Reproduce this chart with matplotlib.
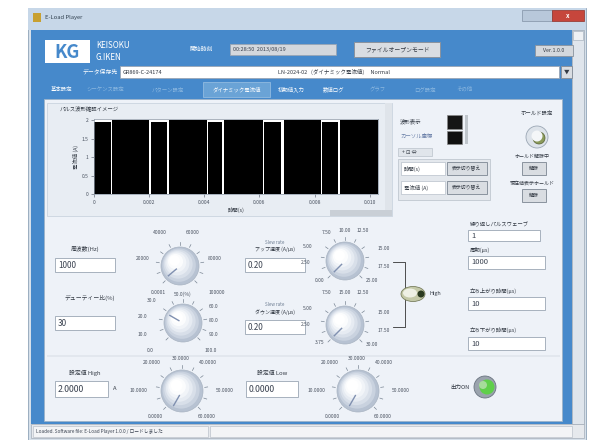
import numpy as np
import matplotlib
matplotlib.use("Agg")
import matplotlib.pyplot as plt
from matplotlib.patches import Rectangle, Circle, Ellipse

plt.rcParams['font.family'] = ['Noto Sans CJK JP', 'DejaVu Sans']

# ---------------- data ----------------
# pulse waveform segments (start time s, end time s, current A)
seg_start = [0.00000, 0.00065, 0.00205, 0.00272, 0.00415, 0.00472, 0.00618, 0.00688, 0.00828, 0.00892]
seg_end   = [0.00060, 0.00200, 0.00265, 0.00410, 0.00465, 0.00612, 0.00680, 0.00822, 0.00885, 0.01030]
seg_level = [1.95, 2.00, 1.95, 2.00, 1.95, 2.00, 1.95, 2.00, 1.95, 2.00]
x_ticks = [0, 0.002, 0.004, 0.006, 0.008, 0.010]
x_tick_labels = ["0", "0.002", "0.004", "0.006", "0.008", "0.010"]
y_ticks = [0, 0.5, 1.0, 1.5, 2.0]
y_tick_labels = ["0", "0.5", "1", "1.5", "2"]

freq_value = "1000"
duty_value = "30"
up_speed_value = "0.20"
down_speed_value = "0.20"
high_value = "2.0000"
low_value = "0.0000"
repeat_value = "1"
period_value = "1000"
rise_value = "10"
fall_value = "10"

freq_knob_labels = ["0.0001", "20000", "40000", "60000", "80000", "100000"]
duty_knob_labels = ["0.0", "10.0", "20.0", "30.0", "50.0(%)", "60.0", "80.0", "90.0", "100.0"]
up_knob_labels = ["0.00", "2.50", "5.00", "7.50", "10.00", "12.50", "15.00", "17.50", "25.00"]
dn_knob_labels = ["3.75", "2.50", "5.00", "7.50", "15.00", "12.50", "15.00", "17.50", "30.00"]
high_knob_labels = ["0.0000", "10.0000", "20.0000", "30.0000", "40.0000", "50.0000", "60.0000"]
low_knob_labels = ["0.0000", "10.0000", "20.0000", "30.0000", "40.0000", "50.0000", "60.0000"]

# ---------------- figure ----------------
W, H = 595, 440
fig = plt.figure(figsize=(W / 100, H / 100), dpi=100)
bg = fig.add_axes([0, 0, 1, 1])
bg.set_xlim(0, W)
bg.set_ylim(H, 0)
bg.axis('off')

BLUE = '#4689cb'
PANEL = '#eef2f8'
TXT = '#333a44'


def rect(x0, y0, x1, y1, fc, ec='none', lw=0.6, z=1):
    bg.add_patch(Rectangle((x0, y0), x1 - x0, y1 - y0, facecolor=fc, edgecolor=ec, lw=lw, zorder=z))


def txt(x, y, s, size=4.3, color=TXT, ha='left', va='center', weight='normal', z=5, rot=0):
    bg.text(x, y, s, fontsize=size, color=color, ha=ha, va=va, weight=weight, zorder=z, rotation=rot)


def field(x0, y0, x1, y1, s, size=5.5):
    rect(x0, y0, x1, y1, 'white', '#9aa6b4', 0.6, 3)
    txt(x0 + 3, (y0 + y1) / 2, s, size=size, color='#3a4250', z=4)


def button(x0, y0, x1, y1, s, size=3.8):
    rect(x0, y0, x1, y1, '#d9dde2', '#8a939e', 0.7, 3)
    txt((x0 + x1) / 2, (y0 + y1) / 2, s, size=size, ha='center', z=4)


def knob(cx, cy, r, angle, labels, lpos):
    for a in np.linspace(225, -45, 11):
        t = np.deg2rad(a)
        bg.plot([cx + (r + 2) * np.cos(t), cx + (r + 5) * np.cos(t)],
                [cy - (r + 2) * np.sin(t), cy - (r + 5) * np.sin(t)], color='#7a8694', lw=0.5, zorder=3)
    cols = ['#b7c2d2', '#c9d2df', '#d8dfe9', '#e6ebf2', '#f1f4f8', '#fbfcfd', '#ffffff']
    for i, c in enumerate(cols):
        f = 1 - i * 0.12
        off = i * 0.9
        bg.add_patch(Circle((cx - off, cy - off), r * f, facecolor=c, edgecolor='none', zorder=4))
    bg.add_patch(Circle((cx, cy), r, facecolor='none', edgecolor='#a9b4c2', lw=0.5, zorder=5))
    t = np.deg2rad(angle)
    bg.plot([cx + 0.25 * r * np.cos(t), cx + 0.8 * r * np.cos(t)],
            [cy - 0.25 * r * np.sin(t), cy - 0.8 * r * np.sin(t)], color='#8090b0', lw=1.0, zorder=6)
    for s, (x, y) in zip(labels, lpos):
        txt(x, y, s, size=3.6, ha='center', color='#4a5260')


# window frame
rect(28, 8, 586, 440, '#d6e0ea', '#8ea3b8', 0.6, 0)
rect(28, 8, 586, 30, '#c7d7e8', 'none', 0, 1)
txt(45, 18, "E-Load Player", size=4.2, color='#30404f')
rect(33, 13, 41, 22, '#c8a030', 'none', 0, 2)
rect(522, 10, 552, 21, '#b8c8da', '#8090a4', 0.5, 2)
rect(552, 10, 584, 21, '#c6463c', '#903028', 0.5, 2)
txt(568, 15.5, "x", size=4.5, color='white', ha='center', weight='bold')

# blue body
rect(31, 30, 572, 424, BLUE, 'none', 0, 1)
rect(572, 30, 584, 424, '#dfe5ec', '#9aa6b4', 0.5, 1)
rect(573, 31, 583, 40, '#eef1f4', '#9aa6b4', 0.4, 2)

# header
rect(45, 40, 90, 63, 'white', 'none', 0, 2)
txt(67.5, 52, "KG", size=13, color=BLUE, ha='center', weight='bold', z=3)
txt(96, 45, "KEISOKU", size=5.8, color='white', z=3)
txt(96, 57, "G.IKEN", size=5.8, color='white', z=3)
txt(190, 49, "開始時刻", size=4.2, color='white')
rect(230, 44, 336, 55, '#d4d8dd', '#9aa6b4', 0.6, 3)
txt(233, 49.5, "00:28:50  2013/08/19", size=4.0, color='#3a4250', z=4)
button(354, 42, 440, 57, "ファイルオープンモード", size=4.2)
rect(535, 45, 573, 56, '#d4d8dd', '#8a939e', 0.6, 3)
txt(554, 50.5, "Ver.1.0.0", size=3.8, ha='center')
txt(118, 72, "データ保存先", size=4.2, color='white', ha='right')
rect(120, 66, 559, 78, 'white', '#9aa6b4', 0.6, 3)
txt(123, 72, "GR869-C-24174", size=4.0, z=4)
txt(278, 72, "LN-2024-02   (ダイナミック電流値)     Normal", size=4.0, z=4)
button(561, 66, 572, 78, "▼", size=4)

# tabs
tabs = [("基本設定", 45, 78, 1), ("シーケンス設定", 80, 130, 0), ("パターン設定", 135, 200, 0),
        ("ダイナミック電流値", 203, 270, 1), ("初期値入力", 272, 310, 1), ("数値ログ", 318, 350, 1),
        ("グラフ", 355, 400, 0), ("ログ設定", 405, 445, 0), ("その他", 450, 480, 0)]
for s, x0, x1, on in tabs:
    if s == "ダイナミック電流値":
        rect(x0, 82, x1, 97, '#6aa3d6', '#9cc2e4', 0.5, 2)
    txt((x0 + x1) / 2, 89.5, s, size=3.9, color='white' if on else '#8cb8e0', ha='center')

# inner panel
rect(44, 99, 562, 421, PANEL, '#9cb3c8', 0.6, 2)

# graph panel
rect(47, 103, 392, 216, '#e8edf3', '#c4ceda', 0.5, 2)
txt(60, 108.5, "パルス波形確認イメージ", size=3.9)
rect(385, 103, 392, 216, '#dfe4ea', 'none', 0, 2)
rect(330, 210, 392, 216, '#c9cfd6', 'none', 0, 2)

# legend area / cursor
txt(400, 122, "波形表示", size=3.9)
rect(447, 115, 462, 129, '#151515', '#888', 0.5, 3)
txt(400, 136, "カーソル座標", size=3.9, color='#6a7fa8')
rect(447, 131, 462, 144, '#101010', '#888', 0.5, 3)
rect(465, 115, 468, 144, '#c0c6cc', 'none', 0, 3)
rect(398, 148, 432, 156, '#e0e5eb', '#b0b8c2', 0.4, 3)
txt(402, 152, "+ ⊡ ⇔", size=3.8)
rect(398, 159, 490, 200, '#e4e8ed', '#b8c0c9', 0.5, 3)
rect(401, 162, 445, 175, 'white', '#aab4c0', 0.4, 4)
txt(404, 168.5, "時間(s)", size=3.9, z=5)
button(447, 162, 487, 175, "表示切り替え", size=3.5)
rect(401, 181, 445, 194, 'white', '#aab4c0', 0.4, 4)
txt(404, 187.5, "電流値 (A)", size=3.9, z=5)
button(447, 181, 487, 194, "表示切り替え", size=3.5)

# hold controls
txt(537, 113, "ホールド設定", size=3.9, ha='center')
bg.add_patch(Circle((537, 137), 11, facecolor='#dde3ea', edgecolor='#9aa6b4', lw=0.6, zorder=4))
bg.add_patch(Circle((539, 138), 6, facecolor='#8a9a5a', edgecolor='#556030', lw=0.5, zorder=5))
bg.add_patch(Circle((537, 136), 5.5, facecolor='#f4f6f8', edgecolor='none', zorder=6))
txt(532, 156, "ホールド解除中", size=3.6, ha='center')
button(522, 162, 546, 175, "解除", size=3.6)
txt(532, 183, "現在値表示ホールド", size=3.6, ha='center')
button(522, 189, 546, 202, "解除", size=3.6)

# right column fields
txt(470, 225, "繰り返しパルスウェーブ", size=3.9)
field(468, 230, 540, 241, repeat_value, size=5.5)
txt(470, 250, "周期(μs)", size=3.9)
field(468, 256, 545, 269, period_value, size=5.5)
txt(470, 291, "立ち上がり時間(μs)", size=3.9)
field(468, 297, 545, 310, rise_value, size=5.5)
txt(470, 330, "立ち下がり時間(μs)", size=3.9)
field(468, 337, 545, 350, fall_value, size=5.5)

# left fields
txt(85, 249, "周波数(Hz)", size=4.2, ha='center')
field(55, 258, 115, 272, freq_value, size=5.8)
txt(90, 298, "デューティー比(%)", size=4.2, ha='center')
field(55, 316, 115, 330, duty_value, size=5.8)
txt(275, 242, "Slew rate", size=3.2, color='#6a7a90', ha='center')
txt(275, 249, "アップ速度 (A/μs)", size=3.6, ha='center')
field(245, 258, 305, 272, up_speed_value, size=5.8)
txt(275, 305, "Slew rate", size=3.2, color='#6a7a90', ha='center')
txt(275, 312, "ダウン速度 (A/μs)", size=3.6, ha='center')
field(245, 320, 305, 334, down_speed_value, size=5.8)

# knobs
knob(180, 266, 19, 220, freq_knob_labels,
     [(158, 292), (143, 258), (160, 232), (193, 232), (215, 258), (217, 292)])
knob(183, 323, 19, 150, duty_knob_labels,
     [(150, 350), (142, 334), (143, 316), (152, 301), (183, 294), (214, 306), (214, 320), (214, 335), (211, 350)])
knob(345, 261, 19, 225, up_knob_labels,
     [(320, 280), (306, 262), (308, 246), (327, 232), (345, 231), (363, 231), (384, 248), (384, 266), (372, 281)])
knob(345, 325, 19, 225, dn_knob_labels,
     [(320, 343), (306, 325), (308, 309), (327, 293), (345, 293), (363, 293), (384, 312), (384, 330), (372, 344)])
# bracket + switch
bg.plot([393, 405, 405, 393], [262, 262, 327, 327], color='#333', lw=0.6, zorder=3)
bg.add_patch(Ellipse((413, 294), 24, 15, facecolor='#c4c9a8', edgecolor='#7a8060', lw=0.6, zorder=4))
bg.add_patch(Ellipse((410, 293), 14, 9, facecolor='#eef0e4', edgecolor='none', zorder=5))
bg.add_patch(Circle((421, 294), 3.5, facecolor='#2a3a20', edgecolor='none', zorder=6))
txt(430, 294, "High", size=3.9)

rect(47, 355, 560, 357, '#e2e7ee', 'none', 0, 2)

# bottom setpoints
txt(85, 373, "設定値 High", size=4.2, ha='center')
field(55, 381, 108, 397, high_value, size=6.3)
txt(113, 389, "A", size=4.2)
knob(182, 391, 21, 240, high_knob_labels,
     [(155, 416), (138, 390), (152, 362), (181, 358), (208, 362), (225, 390), (207, 416)])
txt(272, 373, "設定値 Low", size=4.2, ha='center')
field(246, 381, 298, 397, low_value, size=6.3)
knob(358, 391, 21, 240, low_knob_labels,
     [(332, 416), (316, 390), (330, 362), (357, 358), (384, 362), (401, 390), (383, 416)])
txt(460, 387, "出力ON", size=4.0, ha='center')
bg.add_patch(Circle((485, 387), 11, facecolor='#9aa3ad', edgecolor='#6a7480', lw=0.6, zorder=4))
bg.add_patch(Circle((487, 387), 7.5, facecolor='#5fcf4a', edgecolor='none', zorder=5))
bg.add_patch(Circle((483, 385), 4, facecolor='#a6dc9a', edgecolor='none', zorder=6))

# status bar
rect(31, 424, 584, 438, '#e6e9ed', '#a4adb8', 0.5, 2)
rect(33, 426, 208, 437, '#f3f4f6', '#b0b8c2', 0.4, 3)
txt(36, 431.5, "Loaded. Software file: E-Load Player 1.0.0 / ロードしました", size=3.4, color='#3a4250')
rect(210, 426, 572, 437, '#f3f4f6', '#b0b8c2', 0.4, 3)

# ---------------- waveform chart ----------------
ax = fig.add_axes([94 / W, 1 - 194 / H, (378 - 94) / W, (194 - 119) / H])
ax.set_zorder(10)
ax.set_facecolor('white')
widths = [e - s for s, e in zip(seg_start, seg_end)]
ax.bar(seg_start, seg_level, width=widths, align='edge', color='black', edgecolor='none')
ax.set_xlim(0, 0.0103)
ax.set_ylim(0, 2.04)
ax.set_xticks(x_ticks)
ax.set_xticklabels(x_tick_labels, fontsize=3.6, color='#4a5260')
ax.set_yticks(y_ticks)
ax.set_yticklabels(y_tick_labels, fontsize=3.6, color='#4a5260')
ax.tick_params(length=2, width=0.4, pad=2, colors='#4a5260')
for sp in ax.spines.values():
    sp.set_linewidth(0.5)
    sp.set_color('#8a96a4')
ax.set_xlabel("時間(s)", fontsize=3.9, labelpad=1.5, color=TXT)
ax.set_ylabel("電流値 (A)", fontsize=3.9, labelpad=2, color=TXT)

fig.savefig("out.png", dpi=100)
